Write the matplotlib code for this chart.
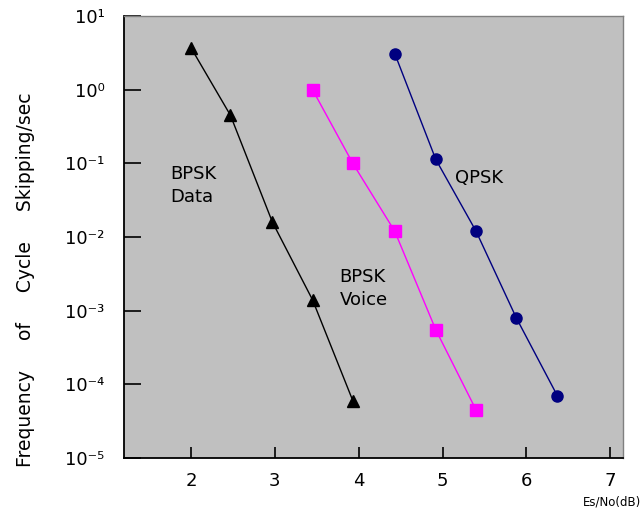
import matplotlib
matplotlib.use("Agg")
import matplotlib.pyplot as plt

# Data
bpsk_data_x = [2.0, 2.47, 2.97, 3.45, 3.93]
bpsk_data_y = [3.7, 0.45, 0.016, 1.4e-3, 6.0e-5]

bpsk_voice_x = [3.45, 3.93, 4.43, 4.92, 5.4]
bpsk_voice_y = [1.0, 0.1, 0.012, 5.5e-4, 4.5e-5]

qpsk_x = [4.43, 4.92, 5.4, 5.88, 6.37]
qpsk_y = [3.1, 0.113, 0.012, 8.0e-4, 7.0e-5]

x_ticks = [2, 3, 4, 5, 6, 7]
y_ticks = [1e1, 1e0, 1e-1, 1e-2, 1e-3, 1e-4, 1e-5]
y_tick_labels = ["10¹", "10⁰", "10⁻¹", "10⁻²", "10⁻³", "10⁻⁴", "10⁻⁵"]

plt.rcParams['font.family'] = ['DejaVu Sans']

fig = plt.figure(figsize=(6.44, 5.18), dpi=100)
ax = fig.add_axes([0.1925, 0.1158, 0.7745, 0.8532])
ax.set_facecolor('#c0c0c0')

ax.plot(bpsk_data_x, bpsk_data_y, color='black', lw=1.0, marker='^', ms=9)
ax.plot(bpsk_voice_x, bpsk_voice_y, color='#ff00ff', lw=1.0, marker='s', ms=8)
ax.plot(qpsk_x, qpsk_y, color='#000080', lw=1.0, marker='o', ms=8)

ax.set_yscale('log')
ax.set_xlim(1.2, 7.15)
ax.set_ylim(1e-5, 1e1)
ax.set_xticks(x_ticks)
ax.set_xticklabels([str(v) for v in x_ticks])
ax.set_yticks(y_ticks)
ax.set_yticklabels(y_tick_labels)
ax.minorticks_off()
ax.tick_params(axis='y', direction='in', length=12, width=1.2, labelsize=13, pad=14)
ax.tick_params(axis='x', direction='in', length=8, width=1.2, labelsize=13, pad=10)

for s in ['left', 'bottom']:
    ax.spines[s].set_color('black')
    ax.spines[s].set_linewidth(1.3)
for s in ['top', 'right']:
    ax.spines[s].set_color('#808080')
    ax.spines[s].set_linewidth(1.0)

ax.text(1.75, 0.05, "BPSK\nData", fontsize=13, ha='left', va='center', linespacing=1.3)
ax.text(5.15, 0.063, "QPSK", fontsize=13, ha='left', va='center')
ax.text(3.77, 2.0e-3, "BPSK\nVoice", fontsize=13, ha='left', va='center', linespacing=1.3)

fig.text(0.04, 0.46, "Frequency     of     Cycle     Skipping/sec", rotation=90,
         fontsize=13.5, ha='center', va='center')
fig.text(0.995, 0.03, "Es/No(dB)", fontsize=8.5, ha='right', va='center')

fig.savefig("out.png", dpi=100)
